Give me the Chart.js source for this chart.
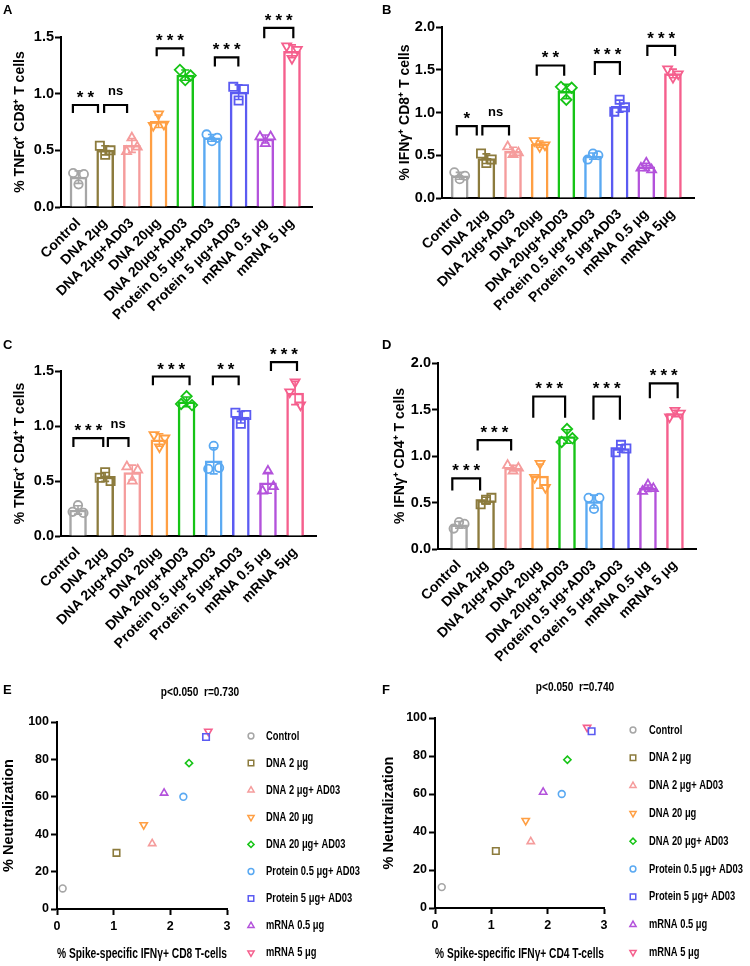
<!DOCTYPE html>
<html>
<head>
<meta charset="utf-8">
<script src="https://cdn.jsdelivr.net/npm/chart.js@4.4.0/dist/chart.umd.min.js"></script>
<style>
  html, body { margin: 0; padding: 0; background: #fff; overflow: hidden; }
  body { width: 750px; height: 966px; position: relative; }
  canvas { position: absolute; }
  .tag { position: absolute; font: bold 13px "Liberation Sans", Arial, sans-serif; color: #000; }
</style>
</head>
<body>
<canvas id="chartA" width="375" height="335" style="left:0;top:0"></canvas>
<canvas id="chartB" width="375" height="335" style="left:375px;top:0"></canvas>
<canvas id="chartC" width="375" height="315" style="left:0;top:335px"></canvas>
<canvas id="chartD" width="375" height="330" style="left:375px;top:335px"></canvas>
<canvas id="chartE" width="375" height="316" style="left:0;top:650px"></canvas>
<canvas id="chartF" width="375" height="316" style="left:375px;top:650px"></canvas>
<div class="tag" style="left:3px;top:2px">A</div>
<div class="tag" style="left:382px;top:2px">B</div>
<div class="tag" style="left:3px;top:337px">C</div>
<div class="tag" style="left:382px;top:337px">D</div>
<div class="tag" style="left:3px;top:682px">E</div>
<div class="tag" style="left:382px;top:682px">F</div>
<script>
const F1 = '"Liberation Sans", Arial, sans-serif';

// groups, in plot order
const labelsA = ["Control", "DNA 2μg", "DNA 2μg+AD03", "DNA 20μg", "DNA 20μg+AD03", "Protein 0.5 μg+AD03", "Protein 5 μg+AD03", "mRNA 0.5 μg", "mRNA 5 μg"];
const labelsB = ["Control", "DNA 2μg", "DNA 2μg+AD03", "DNA 20μg", "DNA 20μg+AD03", "Protein 0.5 μg+AD03", "Protein 5 μg+AD03", "mRNA 0.5 μg", "mRNA 5μg"];
const legendNames = ["Control", "DNA 2 μg", "DNA 2 μg+ AD03", "DNA 20 μg", "DNA 20 μg+ AD03", "Protein 0.5 μg+ AD03", "Protein 5 μg+ AD03", "mRNA 0.5 μg", "mRNA 5 μg"];

const colors = ["#a6a6a6", "#8c7b3d", "#f59c9c", "#ff9f43", "#16c416", "#5aa9f2", "#5b5bf2", "#b352db", "#f55f8d"];
const shapes = ["circle", "rect", "triangle", "triangle", "rectRot", "circle", "rect", "triangle", "triangle"];
const turns = [0, 0, 0, 180, 0, 0, 0, 0, 180];

// replicates per group (3 mice)
const tnfCD8 = [[0.30, 0.29, 0.20], [0.54, 0.50, 0.46], [0.49, 0.53, 0.61], [0.72, 0.73, 0.82], [1.21, 1.16, 1.12], [0.64, 0.61, 0.58], [1.06, 1.04, 0.94], [0.62, 0.62, 0.56], [1.42, 1.39, 1.31]];
const ifnCD8 = [[0.30, 0.26, 0.22], [0.52, 0.45, 0.41], [0.60, 0.53, 0.51], [0.67, 0.62, 0.60], [1.30, 1.29, 1.15], [0.45, 0.50, 0.52], [1.01, 1.06, 1.15], [0.35, 0.33, 0.41], [1.51, 1.45, 1.41]];
const tnfCD4 = [[0.22, 0.21, 0.28], [0.53, 0.50, 0.58], [0.63, 0.60, 0.50], [0.92, 0.89, 0.81], [1.20, 1.19, 1.27], [0.61, 0.62, 0.82], [1.12, 1.10, 1.02], [0.41, 0.45, 0.59], [1.31, 1.19, 1.40]];
const ifnCD4 = [[0.22, 0.27, 0.29], [0.48, 0.55, 0.53], [0.90, 0.87, 0.84], [0.77, 0.66, 0.92], [1.15, 1.19, 1.29], [0.55, 0.55, 0.43], [1.04, 1.08, 1.12], [0.62, 0.65, 0.69], [1.42, 1.46, 1.49]];

// significance brackets: [from, to, top, leg end, text]
const bracketsA = [[-0.21, 0.73, 0.90, 0.83, "**"], [0.96, 1.82, 0.90, 0.83, "ns"], [2.93, 3.93, 1.40, 1.33, "***"], [5.11, 5.99, 1.32, 1.24, "***"], [6.96, 8.05, 1.58, 1.49, "***"]];
const bracketsB = [[-0.11, 0.64, 0.84, 0.73, "*"], [0.85, 1.85, 0.84, 0.73, "ns"], [2.89, 3.92, 1.55, 1.43, "**"], [5.07, 6.01, 1.59, 1.44, "***"], [7.04, 8.08, 1.78, 1.66, "***"]];
const bracketsC = [[-0.17, 0.93, 0.89, 0.81, "***"], [1.10, 1.86, 0.89, 0.81, "ns"], [2.76, 4.11, 1.45, 1.37, "***"], [4.97, 5.92, 1.45, 1.37, "**"], [7.11, 8.07, 1.58, 1.50, "***"]];
const bracketsD = [[-0.25, 0.78, 0.76, 0.63, "***"], [0.69, 1.93, 1.17, 1.06, "***"], [2.75, 3.93, 1.64, 1.41, "***"], [4.98, 5.96, 1.64, 1.39, "***"], [7.07, 8.10, 1.78, 1.62, "***"]];

// correlation panels
const cd8Ifn = [0.10, 1.05, 1.68, 1.53, 2.33, 2.23, 2.63, 1.89, 2.67];
const neutE = [11, 30, 35, 45, 78, 60, 92, 62, 95];
const cd4Ifn = [0.12, 1.08, 1.70, 1.61, 2.35, 2.25, 2.78, 1.92, 2.70];
const neutF = [11, 30, 35, 46, 78, 60, 93, 61, 95];

const jitter = [-0.2, 0.2, 0];
const sizeBar = { circle: 4.2, rect: 5.8, triangle: 5.2, rectRot: 5.2 };
const sizeSc = { circle: 3.4, rect: 4.6, triangle: 4.2, rectRot: 3.6 };

Chart.defaults.font.family = F1;
Chart.defaults.color = "#000";

function marksPlugin(means, sds, brackets) {
  return {
    id: "marks",
    afterDatasetDraw(chart, args) {
      if (args.index !== 0) return;
      const { ctx, scales: { x, y } } = chart;
      ctx.save();
      ctx.lineWidth = 1.6;
      means.forEach((m, i) => {
        const px = x.getPixelForValue(i);
        const hi = y.getPixelForValue(m + sds[i]);
        const lo = y.getPixelForValue(m - sds[i]);
        ctx.strokeStyle = colors[i];
        ctx.beginPath();
        ctx.moveTo(px, hi); ctx.lineTo(px, lo);
        ctx.moveTo(px - 4, hi); ctx.lineTo(px + 4, hi);
        ctx.moveTo(px - 4, lo); ctx.lineTo(px + 4, lo);
        ctx.stroke();
      });
      ctx.restore();
    },
    afterDraw(chart) {
      const { ctx, scales: { x, y } } = chart;
      ctx.save();
      ctx.strokeStyle = "#000";
      ctx.fillStyle = "#000";
      ctx.lineWidth = 2.2;
      ctx.textAlign = "center";
      ctx.textBaseline = "alphabetic";
      brackets.forEach(([a, b, top, leg, txt]) => {
        const x0 = x.getPixelForValue(a), x1 = x.getPixelForValue(b);
        const yt = y.getPixelForValue(top), yl = y.getPixelForValue(leg);
        ctx.beginPath();
        ctx.moveTo(x0, yl); ctx.lineTo(x0, yt); ctx.lineTo(x1, yt); ctx.lineTo(x1, yl);
        ctx.stroke();
        if (txt === "ns") {
          ctx.font = "bold 13px " + F1;
          ctx.letterSpacing = "0px";
          ctx.fillText(txt, (x0 + x1) / 2, yt - 10);
        } else {
          ctx.font = "bold 17px " + F1;
          ctx.letterSpacing = "4px";
          ctx.fillText(txt, (x0 + x1) / 2 + 2, yt - 2);
        }
      });
      ctx.restore();
    }
  };
}

function barPanel(id, reps, labels, brackets, title, c) {
  const means = reps.map(r => r.reduce((a, b) => a + b, 0) / r.length);
  const sds = reps.map((r, i) => Math.sqrt(r.reduce((a, v) => a + (v - means[i]) ** 2, 0) / (r.length - 1)));
  const pts = [];
  reps.forEach((r, i) => r.forEach((v, k) => pts.push({ x: i + jitter[k], y: v, g: i })));

  new Chart(document.getElementById(id), {
    type: "bar",
    data: {
      datasets: [
        {
          data: means.map((m, i) => ({ x: i, y: m })),
          backgroundColor: "#fff",
          borderColor: colors,
          borderWidth: 2.5,
          barThickness: 17,
          order: 2
        },
        {
          type: "scatter",
          data: pts,
          pointStyle: pts.map(p => shapes[p.g]),
          pointRotation: pts.map(p => turns[p.g]),
          pointBorderColor: pts.map(p => colors[p.g]),
          pointRadius: pts.map(p => sizeBar[shapes[p.g]]),
          pointBackgroundColor: "rgba(0,0,0,0)",
          pointBorderWidth: 1.8,
          order: 1
        }
      ]
    },
    options: {
      responsive: false,
      animation: false,
      devicePixelRatio: 1,
      layout: { padding: { top: c.top, right: c.right, left: 0, bottom: 0 } },
      plugins: { legend: { display: false }, tooltip: { enabled: false } },
      scales: {
        x: {
          type: "linear",
          min: c.xmin,
          max: c.xmax,
          offset: false,
          grid: { display: false, drawTicks: false, offset: false },
          border: { color: "#000", width: 2 },
          ticks: {
            stepSize: 1,
            includeBounds: false,
            autoSkip: false,
            minRotation: 45,
            maxRotation: 45,
            padding: 8,
            color: "#000",
            font: { family: F1, weight: "bold", size: 14 },
            callback: v => labels[v]
          },
          afterFit: s => { s.height = c.xh; }
        },
        y: {
          min: 0,
          max: c.ymax,
          ticks: {
            stepSize: 0.5,
            padding: 1,
            color: "#000",
            font: { family: F1, weight: "bold", size: 14.5 },
            callback: v => v.toFixed(1)
          },
          grid: { drawOnChartArea: false, tickLength: 6, tickColor: "#000", tickWidth: 2 },
          border: { color: "#000", width: 2 },
          title: {
            display: true,
            text: title,
            color: "#000",
            font: { family: F1, weight: "bold", size: 14 },
            padding: { top: c.tpad, bottom: 0 }
          },
          afterFit: s => { s.width = c.yw; }
        }
      }
    },
    plugins: [marksPlugin(means, sds, brackets)]
  });
}

// narrow text, as in the original figure
function squeezed(ctx, text, x, y, sx, align) {
  ctx.save();
  ctx.translate(x, y);
  ctx.scale(sx, 1);
  ctx.textAlign = align;
  ctx.fillText(text, 0, 0);
  ctx.restore();
}

function notePlugin(note, c) {
  return {
    id: "note",
    afterDraw(chart) {
      const ctx = chart.ctx;
      ctx.save();
      ctx.fillStyle = "#000";
      ctx.textBaseline = "middle";
      ctx.font = "bold 13px " + F1;
      squeezed(ctx, note, c.px, c.py, 0.78, "center");
      legendNames.forEach((n, i) => {
        const yy = c.ly + i * c.lgap;
        ctx.strokeStyle = colors[i];
        ctx.fillStyle = "rgba(0,0,0,0)";
        ctx.lineWidth = 1.5;
        Chart.helpers.drawPoint(ctx, { pointStyle: shapes[i], rotation: turns[i], radius: sizeSc[shapes[i]] * 0.85, borderWidth: 1.5 }, c.lx, yy);
        ctx.fillStyle = "#000";
        squeezed(ctx, n, c.tx, yy, 0.72, "left");
      });
      ctx.restore();
    }
  };
}

function scatterPanel(id, xs, ys, xTitle, note, c) {
  new Chart(document.getElementById(id), {
    type: "scatter",
    data: {
      datasets: legendNames.map((n, i) => ({
        label: n,
        data: [{ x: xs[i], y: ys[i] }],
        pointStyle: shapes[i],
        pointRotation: turns[i],
        pointBorderColor: colors[i],
        pointBackgroundColor: "rgba(0,0,0,0)",
        pointRadius: sizeSc[shapes[i]],
        pointBorderWidth: 1.6
      }))
    },
    options: {
      responsive: false,
      animation: false,
      devicePixelRatio: 1,
      layout: { padding: { top: c.top, right: c.right, left: 0, bottom: 0 } },
      plugins: { legend: { display: false }, tooltip: { enabled: false } },
      scales: {
        x: {
          type: "linear",
          min: 0,
          max: 3,
          ticks: { stepSize: 1, padding: 4, color: "#000", font: { family: F1, weight: "bold", size: 12.5 } },
          grid: { drawOnChartArea: false, tickLength: 6, tickColor: "#000", tickWidth: 2 },
          border: { color: "#000", width: 2 },
          title: {
            display: true,
            text: xTitle,
            color: "#000",
            font: { family: F1, weight: "bold", size: 15 },
            padding: { top: 0, bottom: 3 }
          },
          afterFit: s => { s.height = c.xh; }
        },
        y: {
          min: 0,
          max: 100,
          ticks: { stepSize: 20, padding: 2, color: "#000", font: { family: F1, weight: "bold", size: 12.5 } },
          grid: { drawOnChartArea: false, tickLength: 6, tickColor: "#000", tickWidth: 2 },
          border: { color: "#000", width: 2 },
          title: {
            display: true,
            text: "% Neutralization",
            color: "#000",
            font: { family: F1, weight: "bold", size: 14.5 },
            padding: { top: c.tpad, bottom: 0 }
          },
          afterFit: s => { s.width = c.yw; }
        }
      }
    },
    plugins: [notePlugin(note, c)]
  });
}

barPanel("chartA", tnfCD8, labelsA, bracketsA, "% TNFα⁺ CD8⁺ T cells",
  { ymax: 1.5, xmin: -0.656, xmax: 8.75, top: 37, right: 63, yw: 61, xh: 128, tpad: 11.6 });
barPanel("chartB", ifnCD8, labelsB, bracketsB, "% IFNγ⁺ CD8⁺ T cells",
  { ymax: 2.0, xmin: -0.664, xmax: 8.79, top: 27, right: 56, yw: 67, xh: 137, tpad: 21.6 });
barPanel("chartC", tnfCD4, labelsB, bracketsC, "% TNFα⁺ CD4⁺ T cells",
  { ymax: 1.5, xmin: -0.627, xmax: 8.77, top: 36, right: 59, yw: 61, xh: 114, tpad: 11.6 });
barPanel("chartD", ifnCD4, labelsA, bracketsD, "% IFNγ⁺ CD4⁺ T cells",
  { ymax: 2.0, xmin: -0.78, xmax: 8.78, top: 28, right: 54, yw: 63, xh: 116, tpad: 16.6 });

scatterPanel("chartE", cd8Ifn, neutE, "% Spike-specific IFNγ+ CD8 T-cells", "p<0.050  r=0.730",
  { top: 72, right: 148, yw: 57, xh: 57, tpad: 0, px: 200, py: 42, lx: 251, tx: 266, ly: 86, lgap: 27.1 });
scatterPanel("chartF", cd4Ifn, neutF, "% Spike-specific IFNγ+ CD4 T-cells", "p<0.050  r=0.740",
  { top: 68, right: 146, yw: 60, xh: 58, tpad: 5, px: 200, py: 37, lx: 258, tx: 274, ly: 80, lgap: 27.8 });
</script>
</body>
</html>
